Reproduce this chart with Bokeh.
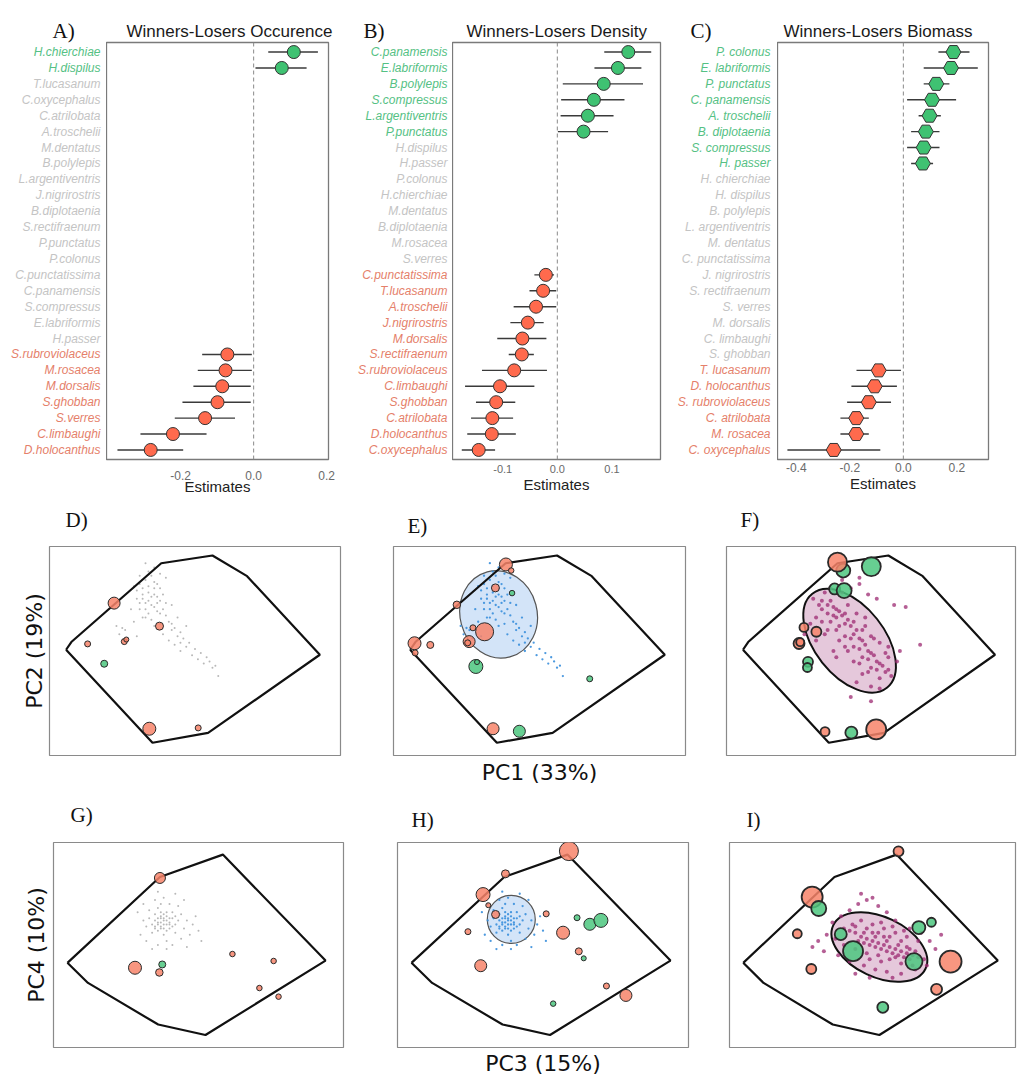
import math
from bokeh.plotting import figure
from bokeh.layouts import column, row
from bokeh.models import (ColumnDataSource, Span, FixedTicker, PrintfTickFormatter, Range1d, Title)
from bokeh.embed import file_html
from bokeh.resources import INLINE
from bokeh.core.properties import value

# ---------------- Forest plot data (top row) ----------------
A_species = ["H.chierchiae", "H.dispilus", "T.lucasanum", "C.oxycephalus", "C.atrilobata",
             "A.troschelii", "M.dentatus", "B.polylepis", "L.argentiventris", "J.nigrirostris",
             "B.diplotaenia", "S.rectifraenum", "P.punctatus", "P.colonus", "C.punctatissima",
             "C.panamensis", "S.compressus", "E.labriformis", "H.passer", "S.rubroviolaceus",
             "M.rosacea", "M.dorsalis", "S.ghobban", "S.verres", "C.limbaughi", "D.holocanthus"]
A_est = [0.110, 0.077] + [None] * 17 + [-0.072, -0.077, -0.086, -0.099, -0.133, -0.221, -0.282]
A_lo = [0.040, 0.005] + [None] * 17 + [-0.141, -0.153, -0.165, -0.195, -0.216, -0.310, -0.373]
A_hi = [0.176, 0.145] + [None] * 17 + [-0.005, -0.005, -0.008, -0.008, -0.051, -0.129, -0.193]
A_ticks = [-0.2, 0.0, 0.2]

B_species = ["C.panamensis", "E.labriformis", "B.polylepis", "S.compressus", "L.argentiventris",
             "P.punctatus", "H.dispilus", "H.passer", "P.colonus", "H.chierchiae", "M.dentatus",
             "B.diplotaenia", "M.rosacea", "S.verres", "C.punctatissima", "T.lucasanum",
             "A.troschelii", "J.nigrirostris", "M.dorsalis", "S.rectifraenum", "S.rubroviolaceus",
             "C.limbaughi", "S.ghobban", "C.atrilobata", "D.holocanthus", "C.oxycephalus"]
B_est = [0.130, 0.111, 0.085, 0.067, 0.056, 0.048] + [None] * 8 + \
        [-0.021, -0.026, -0.039, -0.054, -0.064, -0.065, -0.079, -0.105, -0.112, -0.119, -0.120, -0.144]
B_lo = [0.086, 0.068, 0.010, 0.007, 0.006, 0.001] + [None] * 8 + \
       [-0.042, -0.051, -0.080, -0.086, -0.110, -0.089, -0.138, -0.169, -0.149, -0.158, -0.165, -0.175]
B_hi = [0.172, 0.154, 0.157, 0.123, 0.103, 0.093] + [None] * 8 + \
       [-0.006, -0.002, -0.002, -0.025, -0.020, -0.043, -0.019, -0.042, -0.077, -0.081, -0.076, -0.114]
B_ticks = [-0.1, 0.0, 0.1]

C_species = ["P. colonus", "E. labriformis", "P. punctatus", "C. panamensis", "A. troschelii",
             "B. diplotaenia", "S. compressus", "H. passer", "H. chierchiae", "H. dispilus",
             "B. polylepis", "L. argentiventris", "M. dentatus", "C. punctatissima", "J. nigrirostris",
             "S. rectifraenum", "S. verres", "M. dorsalis", "C. limbaughi", "S. ghobban",
             "T. lucasanum", "D. holocanthus", "S. rubroviolaceus", "C. atrilobata", "M. rosacea",
             "C. oxycephalus"]
C_est = [0.187, 0.178, 0.123, 0.107, 0.098, 0.084, 0.076, 0.073] + [None] * 12 + \
        [-0.092, -0.107, -0.129, -0.176, -0.176, -0.260]
C_lo = [0.131, 0.076, 0.076, 0.014, 0.057, 0.029, 0.014, 0.029] + [None] * 12 + \
       [-0.175, -0.194, -0.210, -0.235, -0.235, -0.433]
C_hi = [0.247, 0.278, 0.172, 0.197, 0.140, 0.135, 0.135, 0.111] + [None] * 12 + \
       [-0.009, -0.024, -0.046, -0.129, -0.129, -0.086]
C_ticks = [-0.4, -0.2, 0.0, 0.2]

# ---------------- PCA data (bottom rows) ----------------
hull12_x = [5.7, 7.5, 38.4, 56.0, 67.9, 92.9, 54.5, 35.4]
hull12_y = [50.6, 54.3, 92.0, 95.7, 85.8, 48.2, 10.8, 6.1]
hull34_x = [4.8, 11.9, 36.1, 52.4, 93.8, 58.4, 36.7]
hull34_y = [41.3, 31.5, 11.2, 6.1, 42.4, 94.1, 83.2]

# (pc_x, pc_y, weight, group) W = winner, L = loser
D_pts = [(22.2, 72.9, 12, "L"), (37.8, 61.9, 8, "L"), (13.1, 53.4, 6, "L"), (25.7, 54.5, 6, "L"),
         (26.4, 55.5, 5, "L"), (18.8, 43.9, 7, "W"), (34.3, 12.8, 13, "L"), (51.1, 13.2, 6, "L")]
E_pts = [(38.5, 91.4, 13, "L"), (40.3, 88.5, 5.5, "L"), (34.9, 80.2, 8, "L"), (40.6, 77.7, 5.5, "W"),
         (21.7, 72.1, 7.5, "L"), (27.2, 61.1, 6, "L"), (31.2, 59.2, 18, "L"), (25.9, 54.5, 12, "L"),
         (25.4, 53.9, 6, "L"), (7.2, 53.7, 13, "L"), (12.6, 52.9, 7, "L"), (7.4, 49.1, 6, "L"),
         (28.2, 42.6, 14, "W"), (28.6, 44.7, 5, "W"), (67.2, 36.7, 6, "W"), (34.1, 12.8, 12, "L"),
         (43.1, 11.6, 12, "W")]
F_pts = [(40.4, 88.5, 14, "W"), (38.4, 92.5, 19, "L"), (50.1, 90.4, 19, "W"), (37.4, 79.7, 11, "W"),
         (40.7, 78.9, 15, "W"), (26.8, 61.3, 9, "L"), (31.1, 59.2, 10, "L"), (25.1, 53.6, 11, "L"),
         (25.5, 54.2, 8, "L"), (28.2, 44.8, 10, "W"), (28.0, 42.1, 9, "W"), (34.1, 11.4, 9, "L"),
         (43.2, 10.9, 12, "W"), (51.8, 12.5, 20, "L")]
G_pts = [(36.7, 82.7, 11, "L"), (28.1, 38.9, 13, "L"), (37.5, 40.5, 7, "W"), (36.5, 36.6, 7.5, "L"),
         (61.7, 45.6, 5.5, "L"), (75.9, 42.2, 5.5, "L"), (71.0, 29.0, 5.5, "L"), (77.6, 24.8, 5.5, "L")]
H_pts = [(58.9, 95.8, 19, "L"), (37.1, 84.7, 8, "L"), (29.4, 74.6, 14, "L"), (31.2, 69.4, 5, "L"),
         (33.7, 64.9, 8, "L"), (51.1, 65.2, 6, "L"), (61.7, 63.3, 6, "W"), (66.1, 60.1, 12, "W"),
         (69.9, 62.0, 14, "W"), (56.9, 56.0, 13, "L"), (24.2, 56.5, 6, "L"), (62.3, 46.9, 7, "L"),
         (64.0, 43.5, 5, "W"), (28.6, 39.9, 12, "L"), (71.8, 30.0, 6, "L"), (78.5, 25.4, 12, "L"),
         (53.5, 21.4, 5.5, "W")]
I_pts = [(59.1, 95.7, 10, "L"), (28.9, 73.4, 21, "L"), (31.2, 67.8, 15, "W"), (23.7, 55.5, 9, "L"),
         (38.9, 55.3, 12, "W"), (43.2, 47.0, 20, "W"), (66.2, 58.5, 13, "W"), (70.6, 61.1, 9, "W"),
         (77.3, 41.9, 22, "L"), (64.5, 41.9, 17, "W"), (28.6, 38.3, 10, "L"), (72.4, 28.4, 11, "L"),
         (53.6, 19.6, 11, "W")]

cloud12 = [(33, 84), (35, 86), (31, 82), (36, 80), (34, 78), (30, 79), (37, 76), (32, 75), (38, 74), (29, 81),
           (35, 72), (33, 70), (36, 71), (31, 73), (34, 68), (39, 77), (28, 70), (32, 66), (37, 69), (35, 65),
           (40, 67), (38, 63), (41, 64), (36, 62), (42, 60), (39, 58), (43, 61), (44, 57), (41, 55), (45, 59),
           (46, 56), (43, 53), (47, 52), (48, 54), (45, 50), (50, 51), (49, 48), (52, 49), (51, 46), (54, 47),
           (53, 44), (55, 45), (56, 42), (57, 43), (58, 38), (26, 60), (24, 58), (27, 56), (23, 62), (29, 64),
           (30, 57), (25, 61), (34, 88), (36, 90), (38, 87), (40, 85), (33, 92), (31, 86), (44, 66), (47, 62),
           (32, 77), (34, 81), (36, 83), (30, 75), (38, 80), (35, 76), (33, 73), (39, 70), (37, 73), (42, 72),
           (32, 80), (37, 82), (34, 74), (36, 77), (31, 70), (40, 73), (33, 66), (38, 68), (42, 63), (45, 54)]
cloud12F = [(30, 75), (32, 72), (34, 78), (33, 70), (35, 68), (36, 74), (37, 71), (38, 66), (36, 64), (39, 69),
            (40, 67), (41, 63), (38, 60), (42, 65), (43, 62), (44, 58), (41, 57), (45, 60), (46, 56), (47, 55),
            (44, 52), (48, 53), (49, 50), (50, 49), (47, 47), (51, 48), (52, 45), (53, 44), (50, 42), (54, 43),
            (55, 40), (56, 41), (53, 37), (57, 38), (35, 60), (31, 66), (29, 63), (40, 78), (43, 80), (46, 82),
            (49, 77), (52, 75), (58, 72), (62, 71), (67, 53), (45, 35), (43, 28), (50, 26), (37, 50), (34, 58),
            (48, 62), (51, 56), (55, 49), (44, 45), (41, 52), (38, 47), (47, 39), (50, 33), (53, 32), (36, 80),
            (40, 84), (46, 85), (42, 72), (45, 68), (48, 66), (39, 55), (42, 50), (46, 44), (49, 40), (33, 64),
            (59, 45), (60, 50), (56, 52), (27, 58), (31, 55), (35, 72), (38, 70), (41, 68), (44, 64), (47, 60),
            (50, 57), (53, 54), (56, 47), (33, 74), (39, 62), (43, 56), (46, 51), (49, 46), (52, 41), (37, 67)]
cloud34 = [(37, 61), (38, 62), (36, 60), (39, 60), (37, 63), (35, 62), (40, 61), (38, 58), (36, 57), (39, 64),
           (34, 60), (41, 63), (37, 66), (35, 65), (40, 58), (42, 60), (33, 63), (38, 55), (36, 68), (41, 66),
           (43, 62), (39, 52), (34, 56), (32, 59), (44, 65), (37, 70), (40, 70), (42, 56), (45, 58), (31, 62),
           (33, 67), (38, 73), (35, 72), (43, 69), (46, 62), (47, 55), (30, 55), (32, 52), (36, 50), (41, 50),
           (44, 53), (48, 60), (49, 64), (45, 72), (42, 75), (36, 76), (31, 70), (29, 66), (50, 57), (51, 52),
           (39, 48), (34, 48), (46, 49), (37, 58), (38, 65), (36, 63), (40, 63), (39, 57), (35, 59), (41, 59),
           (38, 60), (37, 59), (39, 62), (36, 61), (40, 60), (38, 63), (37, 64), (35, 58), (42, 64), (39, 66)]
cloud34I = [(40, 58), (42, 57), (44, 56), (46, 54), (48, 53), (50, 52), (52, 51), (54, 50), (56, 49), (58, 48),
            (60, 47), (62, 46), (64, 45), (66, 44), (68, 43), (45, 52), (49, 50), (53, 48), (57, 46), (61, 44),
            (47, 56), (51, 54), (55, 52), (59, 50), (63, 48), (43, 60), (46, 62), (50, 60), (54, 58), (58, 56),
            (62, 54), (66, 52), (48, 46), (52, 45), (56, 43), (60, 41), (64, 40), (44, 48), (40, 50), (37, 53),
            (34, 55), (31, 52), (29, 49), (33, 47), (38, 45), (42, 42), (47, 40), (51, 38), (55, 37), (60, 36),
            (46, 75), (48, 72), (50, 73), (45, 70), (52, 69), (55, 66), (42, 67), (39, 64), (36, 61), (58, 62),
            (63, 58), (67, 56), (70, 52), (72, 48), (74, 55), (69, 40), (65, 38), (57, 34), (44, 36), (49, 34),
            (53, 61), (57, 59), (61, 57), (50, 56), (54, 54), (55, 47), (59, 45), (51, 49), (47, 51), (63, 43),
            (65, 47), (44, 59), (48, 58), (52, 56), (56, 54), (60, 52), (62, 49), (58, 44), (53, 42), (49, 43)]

# ellipse: (centre x, centre y, width px, height px, angle rad)
E_ell = (36.0, 67.5, 77, 88, 0.26)
F_ell = (42.6, 54.9, 120, 70, -0.9)
H_ell = (39.1, 62.5, 48, 48, 0.0)
I_ell = (52.4, 49.0, 102, 60, -0.44)

GREEN_TXT = "#55c184"
RED_TXT = "#e5806a"
GRAY_TXT = "#c4c4c4"
GREEN = "#3fc272"
RED = "#ff6a4d"
SANS = "Liberation Sans"
SERIF = "Liberation Serif"

ROW1_H, ROW2_H, ROW3_H = 500, 290, 288


def forest(title, letter, species, est, lo, hi, xr, ticks, marker, msize, lab_w, w, right_b,
           tick_size, tick_standoff, lab_standoff, title_off, letter_off, lab_off):
    n = len(species)
    ys = [n - i for i in range(n)]
    colors = [GRAY_TXT if e is None else (GREEN_TXT if e > 0 else RED_TXT) for e in est]
    yr = Range1d(0.4, n + 0.6)
    top_b, bot_b = 42, 41

    # species label strip (shares the y scale of the plot)
    lf = figure(width=lab_w, height=ROW1_H, x_range=Range1d(0, 1), y_range=yr, output_backend="svg",
                toolbar_location=None, x_axis_location=None, y_axis_location=None,
                title_location=None, min_border_left=0, min_border_right=0,
                min_border_top=top_b, min_border_bottom=bot_b)
    lf.grid.visible = False
    lf.outline_line_color = None
    lf.text(x=[1] * n, y=ys, text=species, x_offset=lab_off, text_align="right",
            text_baseline="middle", text_color=colors, text_font=value(SANS),
            text_font_style="italic", text_font_size="12px")
    lf.add_layout(Title(text=letter, align="left", offset=letter_off,
                        text_font=SERIF, text_font_size="21px", text_font_style="normal",
                        text_color="#111111", standoff=0), "above")

    p = figure(width=w, height=ROW1_H, x_range=Range1d(*xr), y_range=yr,
               output_backend="svg", toolbar_location=None, y_axis_location=None,
               title_location=None, min_border_left=0, min_border_right=right_b,
               min_border_top=top_b, min_border_bottom=bot_b)
    p.grid.visible = False
    p.outline_line_color = "#7a7a7a"
    p.outline_line_width = 1.3
    ax = p.xaxis[0]
    ax.ticker = FixedTicker(ticks=ticks)
    ax.formatter = PrintfTickFormatter(format="%.1f")
    ax.axis_label = "Estimates"
    ax.axis_label_text_font = SANS
    ax.axis_label_text_font_size = "15px"
    ax.axis_label_text_font_style = "normal"
    ax.axis_label_text_color = "#222222"
    ax.axis_label_standoff = lab_standoff
    ax.major_label_text_font = SANS
    ax.major_label_text_font_size = tick_size
    ax.major_label_text_color = "#6a6a6a"
    ax.major_label_standoff = tick_standoff
    ax.axis_line_color = None
    ax.major_tick_line_color = None
    ax.minor_tick_line_color = None
    ax.major_tick_out = 0
    ax.major_tick_in = 0
    p.add_layout(Title(text=title, align="left", offset=title_off,
                       text_font=SANS, text_font_size="17px", text_font_style="normal",
                       text_color="#1a1a1a", standoff=4), "above")

    p.add_layout(Span(location=0, dimension="height", line_color="#8a8a8a",
                      line_dash="4 3", line_width=1))
    idx = [i for i, e in enumerate(est) if e is not None]
    src = ColumnDataSource(dict(y=[ys[i] for i in idx], est=[est[i] for i in idx],
                                lo=[lo[i] for i in idx], hi=[hi[i] for i in idx],
                                fill=[GREEN if est[i] > 0 else RED for i in idx]))
    p.segment(x0="lo", x1="hi", y0="y", y1="y", source=src, line_color="#3a3a3a", line_width=1.4)
    p.scatter(x="est", y="y", source=src, marker=marker, size=msize, fill_color="fill",
              line_color="#333333", line_width=1)
    return lf, p


def pca(letter, pts, hx, hy, cloud, dot_color, dot_size, dot_alpha, ell, ell_fill, ell_line, ell_lw,
        w, h, mb, letter_off, letter_gap, pt_lw, xlab=None, ylab=None, lab_standoff=0):
    p = figure(width=w, height=h, x_range=Range1d(0, 100), y_range=Range1d(0, 100),
               output_backend="svg", toolbar_location=None,
               x_axis_location="below" if xlab else None,
               y_axis_location="left" if ylab else None, title_location=None,
               min_border_left=mb[0], min_border_right=mb[1], min_border_top=mb[2],
               min_border_bottom=mb[3])
    p.grid.visible = False
    p.outline_line_color = "#8a8a8a"
    p.outline_line_width = 1.2
    for ax, lab in ((p.xaxis, xlab), (p.yaxis, ylab)):
        if lab:
            ax.ticker = FixedTicker(ticks=[])
            ax.axis_line_color = None
            ax.major_tick_line_color = None
            ax.minor_tick_line_color = None
            ax.major_tick_out = 0
            ax.major_tick_in = 0
            ax.major_label_standoff = 0
            ax.axis_label = lab
            ax.axis_label_standoff = lab_standoff
            ax.axis_label_text_font = "DejaVu Sans"
            ax.axis_label_text_font_size = "22px"
            ax.axis_label_text_font_style = "normal"
            ax.axis_label_text_color = "#111111"
    if ell is not None:
        p.ellipse(x=[ell[0]], y=[ell[1]], width=[ell[2]], height=[ell[3]], angle=[ell[4]],
                  width_units="screen", height_units="screen", fill_color=ell_fill,
                  fill_alpha=0.75, line_color=ell_line, line_width=ell_lw)
    p.scatter(x=[c[0] for c in cloud], y=[c[1] for c in cloud], size=dot_size,
              fill_color=dot_color, line_color=None, fill_alpha=dot_alpha)
    p.line(x=hx + hx[:1], y=hy + hy[:1], line_color="#111111", line_width=2.2)
    src = ColumnDataSource(dict(x=[q[0] for q in pts], y=[q[1] for q in pts],
                                s=[q[2] for q in pts],
                                c=["#4cc77f" if q[3] == "W" else "#f7846a" for q in pts]))
    p.scatter(x="x", y="y", size="s", source=src, fill_color="c", fill_alpha=0.85,
              line_color="#2a2a2a", line_width=pt_lw)
    # thin empty spacer panel between the frame and the panel letter
    p.add_layout(Title(text=" ", text_font_size="1px", standoff=letter_gap), "above")
    p.add_layout(Title(text=letter, align="left", offset=letter_off,
                       text_font=SERIF, text_font_size="21px", text_font_style="normal",
                       text_color="#111111", standoff=0), "above")
    return p


lA, pA = forest("Winners-Losers Occurence", "A)", A_species, A_est, A_lo, A_hi, (-0.403, 0.205), A_ticks,
                "circle", 13, 106, 234, 12, "12px", 11, -5, 20, 52, -6)
lB, pB = forest("Winners-Losers Density", "B)", B_species, B_est, B_lo, B_hi, (-0.192, 0.189), B_ticks,
                "circle", 13, 112, 216, 8, "11px", 5, 0, 14, 23, -5)
lC, pC = forest("Winners-Losers Biomass", "C)", C_species, C_est, C_lo, C_hi, (-0.470, 0.318), C_ticks,
                "hex", 15, 109, 240, 29, "12px", 3, 0, 6, 22, -7)

pD = pca("D)", D_pts, hull12_x, hull12_y, cloud12, "#b0b0b0", 2, 0.9, None, None, None, 0,
         362, ROW2_H, (49, 22, 46, 35), 16, 12, 1.0, ylab="PC2 (19%)", lab_standoff=3)
pE = pca("E)", E_pts, hull12_x, hull12_y, cloud12, "#3a8fdc", 2.3, 0.9, E_ell, "#c4dbf5", "#555555", 1.2,
         340, ROW2_H, (31, 17, 46, 35), 14, 6, 1.0, xlab="PC1 (33%)", lab_standoff=4)
pF = pca("F)", F_pts, hull12_x, hull12_y, cloud12F, "#9c2a72", 4, 0.75, F_ell, "#dcb6cf", "#111111", 2,
         315, ROW2_H, (24, 2, 46, 35), 14, 12, 1.8)
pG = pca("G)", G_pts, hull34_x, hull34_y, cloud34, "#b0b0b0", 2, 0.9, None, None, None, 0,
         362, ROW3_H, (53, 19, 52, 29), 17, 13, 1.0, ylab="PC4 (10%)", lab_standoff=5)
pH = pca("H)", H_pts, hull34_x, hull34_y, cloud34, "#3a8fdc", 2.3, 0.9, H_ell, "#c4dbf5", "#555555", 1.2,
         340, ROW3_H, (35, 14, 52, 29), 14, 8, 1.0, xlab="PC3 (15%)", lab_standoff=3)
pI = pca("I)", I_pts, hull34_x, hull34_y, cloud34I, "#9c2a72", 4, 0.75, I_ell, "#dcb6cf", "#111111", 2,
         315, ROW3_H, (27, 2, 52, 29), 17, 8, 1.8)

layout = column(row(lA, pA, lB, pB, lC, pC), row(pD, pE, pF), row(pG, pH, pI))
open("out.html", "w").write(file_html(layout, INLINE))
